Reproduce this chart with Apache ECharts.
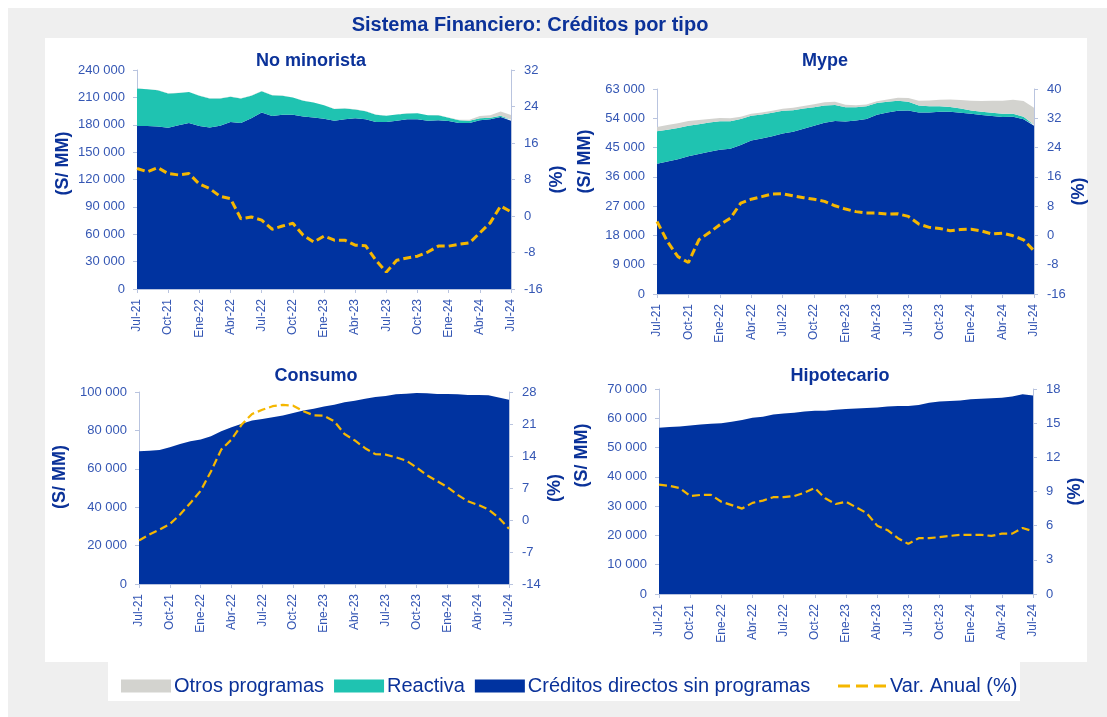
<!DOCTYPE html>
<html>
<head>
<meta charset="utf-8">
<script src="https://cdn.jsdelivr.net/npm/echarts@6/dist/echarts.min.js"></script>
<style>
  html, body { margin: 0; padding: 0; background: #fff; }
  #chart { width: 1107px; height: 717px; }
</style>
</head>
<body>
<div id="chart"></div>
<script>
// meses (eje x)
var months = ['Jul-21','Ago-21','Set-21','Oct-21','Nov-21','Dic-21','Ene-22','Feb-22','Mar-22','Abr-22','May-22','Jun-22',
  'Jul-22','Ago-22','Set-22','Oct-22','Nov-22','Dic-22','Ene-23','Feb-23','Mar-23','Abr-23','May-23','Jun-23',
  'Jul-23','Ago-23','Set-23','Oct-23','Nov-23','Dic-23','Ene-24','Feb-24','Mar-24','Abr-24','May-24','Jun-24','Jul-24'];

// No minorista
var noMinBase = [178500,178500,178000,176700,179500,182000,178500,177000,179000,183000,182000,187000,193500,189500,191000,191000,189000,188000,186500,184500,186000,187000,186000,183000,183000,184500,186000,186000,184500,185000,184000,182000,182000,185000,186000,188500,184500];
var noMinReactiva = [41200,40300,39800,37600,35300,33800,33300,31800,29800,27800,26800,24800,23300,22800,20800,18800,17300,16300,14800,12800,11800,9800,8800,8000,6800,6600,6300,6500,5800,5500,3700,3000,2500,2000,1800,1500,1200];
var noMinOtros = [200,200,200,200,200,200,200,200,200,200,200,200,200,200,200,200,200,200,200,200,200,200,200,200,200,200,200,200,200,200,300,500,1000,2500,2500,4500,5000];
var noMinVar = [10.4,9.7,10.6,9.3,9.0,9.3,7.0,6.0,4.3,3.8,-0.6,-0.2,-0.9,-2.9,-2.2,-1.6,-4.2,-5.7,-4.4,-5.3,-5.3,-6.4,-6.5,-9.7,-12.3,-9.7,-9.2,-8.8,-7.9,-6.6,-6.6,-6.2,-5.9,-3.7,-1.5,2.2,0.9];

// Mype
var mypeBase = [40000,40700,41400,42300,43000,43700,44300,44600,45800,47200,47800,48500,49300,49900,50800,51700,52600,53200,53000,53300,53800,55100,55800,56300,56400,55800,55800,56000,56000,55700,55400,55000,54700,54400,54500,53700,51700];
var mypeReactiva = [10000,9800,9600,9400,9200,9000,8800,8500,8000,7600,7400,7200,7000,6600,6200,5700,5300,4900,4400,4100,3900,3600,3300,3100,2700,2100,1900,1700,1500,1300,1000,1000,1000,1000,900,800,300];
var mypeOtros = [1300,1400,1500,1500,1300,1100,1000,900,700,600,600,600,650,700,800,950,1000,1000,750,600,500,500,700,900,1100,1500,1800,2000,2300,2600,3000,3300,3700,4000,4300,4800,5200];
var mypeVar = [3.8,-1.7,-5.8,-7.4,-1.2,0.8,2.9,4.7,8.8,9.9,10.6,11.3,11.4,10.8,10.3,9.9,9.3,8.1,7.2,6.5,6.1,6.1,5.8,5.9,5.2,3.1,2.2,1.9,1.3,1.6,1.7,1.2,0.4,0.6,-0.1,-1.2,-4.2];

// Consumo
var consBase = [69100,69400,69800,71200,72900,74300,75200,76900,79500,81600,83500,85100,85900,86800,87700,89100,90300,91300,92400,93400,94600,95500,96500,97400,97900,98800,99100,99500,99300,99000,99000,98800,98400,98400,98300,97200,96000];
var consVar = [-4.5,-3.2,-2.1,-0.9,1.2,3.7,6.4,10.6,15.4,17.6,20.9,23.2,24.1,24.9,25.2,25.0,23.8,22.9,22.8,21.6,18.8,17.4,15.7,14.4,14.3,13.7,13.0,11.5,9.8,8.5,7.2,5.5,4.1,3.3,2.3,0.5,-1.9];

// Hipotecario
var hipoBase = [56800,57000,57200,57500,57900,58100,58300,58800,59400,60200,60500,61300,61600,61900,62300,62600,62600,62900,63200,63300,63500,63700,64000,64200,64200,64500,65300,65700,65900,66100,66500,66700,66800,67000,67400,68200,67800];
var hipoVar = [9.6,9.5,9.3,8.6,8.7,8.7,8.1,7.8,7.5,8.0,8.2,8.5,8.5,8.6,8.9,9.3,8.4,7.9,8.1,7.6,7.1,6.0,5.6,4.9,4.4,4.9,4.9,5.0,5.1,5.2,5.2,5.2,5.1,5.3,5.3,5.8,5.5];

var cBlue = '#0033a0', cTeal = '#1fc3b1', cGray = '#d3d3cf', cYellow = '#f5b700';
var txt = '#3557b4', axisCol = '#b9c4df', dark = '#0b3299';
var font = 'Liberation Sans';

function fmt(v) { return String(v).replace(/\B(?=(\d{3})+(?!\d))/g, ' '); }

// el nombre "(S/ MM)" va algo por encima del centro del eje (lshift)
var panels = [
  {title: 'No minorista', tx: 306, ty: 47, grid: {left: 137, top: 70, width: 374, height: 219},
   left: [0, 240000, 30000], right: [-16, 32, 8], lgap: 65, rgap: 37, lshift: 16, lw: 3,
   base: noMinBase, reactiva: noMinReactiva, otros: noMinOtros, vari: noMinVar},
  {title: 'Mype', tx: 820, ty: 47, grid: {left: 657, top: 89, width: 377, height: 205},
   left: [0, 63000, 9000], right: [-16, 40, 8], lgap: 63, rgap: 32, lshift: 30, lw: 3,
   base: mypeBase, reactiva: mypeReactiva, otros: mypeOtros, vari: mypeVar},
  {title: 'Consumo', tx: 311, ty: 362, grid: {left: 139, top: 392, width: 370, height: 192},
   left: [0, 100000, 20000], right: [-14, 28, 7], lgap: 70, rgap: 37, lshift: 11, lw: 2.2,
   base: consBase, vari: consVar},
  {title: 'Hipotecario', tx: 835, ty: 362, grid: {left: 659, top: 389, width: 374, height: 205},
   left: [0, 70000, 10000], right: [0, 18, 3], lgap: 68, rgap: 33, lshift: 36, lw: 2.2,
   base: hipoBase, vari: hipoVar}
];

var titles = [{
  text: 'Sistema Financiero: Créditos por tipo', left: 525, top: 10, textAlign: 'center',
  textStyle: {color: dark, fontSize: 20, fontWeight: 'bold', fontFamily: font}
}];
var grids = [], xAxes = [], yAxes = [], series = [];

panels.forEach(function (p, i) {
  titles.push({text: p.title, left: p.tx, top: p.ty, textAlign: 'center',
    textStyle: {color: dark, fontSize: 18, fontWeight: 'bold', fontFamily: font}});
  grids.push(p.grid);
  xAxes.push({
    type: 'category', gridIndex: i, data: months, boundaryGap: false,
    axisLine: {lineStyle: {color: axisCol}},
    axisTick: {interval: 2, length: 4, lineStyle: {color: axisCol}},
    axisLabel: {interval: 2, rotate: 90, color: txt, fontSize: 12, fontFamily: font, margin: 10}
  });
  yAxes.push({
    type: 'value', gridIndex: i, min: p.left[0], max: p.left[1], interval: p.left[2],
    name: '(S/ MM)', nameLocation: 'middle', nameGap: p.lgap, nameRotate: 90,
    nameTextStyle: {color: dark, fontSize: 18, fontWeight: 'bold', fontFamily: font,
      padding: [0, 0, 0, p.lshift * 2]},
    splitLine: {show: false},
    axisLine: {show: true, lineStyle: {color: axisCol}},
    axisTick: {show: true, length: 4, lineStyle: {color: axisCol}},
    axisLabel: {color: txt, fontSize: 13, fontFamily: font, margin: 12, formatter: fmt}
  });
  yAxes.push({
    type: 'value', gridIndex: i, position: 'right', min: p.right[0], max: p.right[1], interval: p.right[2],
    name: '(%)', nameLocation: 'middle', nameGap: p.rgap, nameRotate: 90,
    nameTextStyle: {color: dark, fontSize: 18, fontWeight: 'bold', fontFamily: font},
    splitLine: {show: false},
    axisLine: {show: true, lineStyle: {color: axisCol}},
    axisTick: {show: true, length: 4, lineStyle: {color: axisCol}},
    axisLabel: {color: txt, fontSize: 13, fontFamily: font, margin: 13}
  });
  var area = function (name, data, color) {
    return {
      name: name, type: 'line', xAxisIndex: i, yAxisIndex: i * 2, stack: 'p' + i, data: data,
      symbol: 'none', lineStyle: {width: 0}, itemStyle: {color: color},
      areaStyle: {color: color, opacity: 1}, emphasis: {disabled: true}
    };
  };
  series.push(area('Créditos directos sin programas', p.base, cBlue));
  if (p.reactiva) series.push(area('Reactiva', p.reactiva, cTeal));
  if (p.otros) series.push(area('Otros programas', p.otros, cGray));
  series.push({
    name: 'Var. Anual (%)', type: 'line', xAxisIndex: i, yAxisIndex: i * 2 + 1, data: p.vari,
    symbol: 'none', z: 5, itemStyle: {color: cYellow},
    lineStyle: {color: cYellow, width: p.lw, type: [8, 4]}
  });
});

var chart = echarts.init(document.getElementById('chart'));
chart.setOption({
  animation: false,
  textStyle: {fontFamily: font},
  graphic: [
    {type: 'rect', shape: {x: 8, y: 8, width: 1099, height: 709}, style: {fill: '#efefef'}, z: -10},
    {type: 'rect', shape: {x: 45, y: 38, width: 1042, height: 624}, style: {fill: '#ffffff'}, z: -9},
    {type: 'rect', shape: {x: 108, y: 662, width: 912, height: 39}, style: {fill: '#ffffff'}, z: -9}
  ],
  title: titles,
  legend: [
    {left: 116, top: 671, itemWidth: 50, itemHeight: 13, itemGap: 10, icon: 'rect',
     data: ['Otros programas', 'Reactiva', 'Créditos directos sin programas'],
     textStyle: {color: dark, fontSize: 20, fontFamily: font, padding: [0, 0, 0, -2]}},
    {left: 833, top: 671, itemWidth: 48, itemHeight: 3,
     data: [{name: 'Var. Anual (%)', icon: 'path://M0,0h12v3h-12z M18,0h12v3h-12z M36,0h12v3h-12z'}],
     itemStyle: {color: cYellow},
     textStyle: {color: dark, fontSize: 20, fontFamily: font, padding: [0, 0, 0, -1]}}
  ],
  grid: grids,
  xAxis: xAxes,
  yAxis: yAxes,
  series: series
});
</script>
</body>
</html>
